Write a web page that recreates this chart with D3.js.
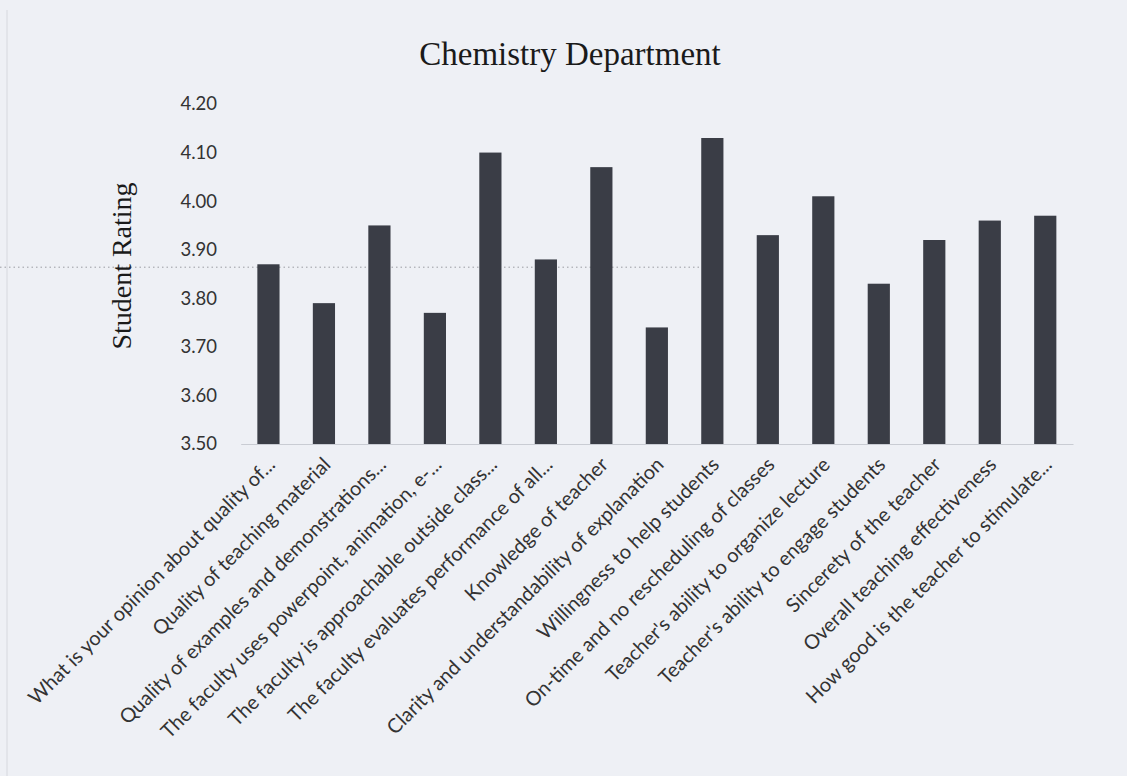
<!DOCTYPE html>
<html>
<head>
<meta charset="utf-8">
<script src="https://cdn.jsdelivr.net/npm/d3@7"></script>
<style>
  html, body { margin: 0; padding: 0; background: #eef0f5; }
  .tick text { font-family: Lato, "Open Sans", sans-serif; fill: #333; }
</style>
</head>
<body>
<div class="chart"></div>
<script>
var svgWidth = 1127;
var svgHeight = 776;

// categories and ratings
var questions = [
  "What is your opinion about quality of...",
  "Quality of teaching material",
  "Quality of examples and demonstrations...",
  "The faculty uses powerpoint, animation, e-...",
  "The faculty is approachable outside class...",
  "The faculty evaluates performance of all...",
  "Knowledge of teacher",
  "Clarity and understandability of explanation",
  "Willingness to help students",
  "On-time and no rescheduling of classes",
  "Teacher's ability to organize lecture",
  "Teacher's ability to engage students",
  "Sincerety of the teacher",
  "Overall teaching effectiveness",
  "How good is the teacher to stimulate..."
];
var ratings = [3.87, 3.79, 3.95, 3.77, 4.10, 3.88, 4.07, 3.74, 4.13, 3.93, 4.01, 3.83, 3.92, 3.96, 3.97];
var yTicks = [3.5, 3.6, 3.7, 3.8, 3.9, 4.0, 4.1, 4.2];

var svg = d3.select(".chart")
    .append("svg")
    .attr("width", svgWidth)
    .attr("height", svgHeight);

// scan artefacts: faint page edge and a dotted line
svg.append("line")
    .attr("x1", 7).attr("x2", 7)
    .attr("y1", 10).attr("y2", 776)
    .attr("stroke", "#d6d8de")
    .attr("stroke-width", 1);

var xScale = d3.scaleBand()
    .domain(questions)
    .range([240.7, 1073])
    .paddingInner(0.6)
    .paddingOuter(0.3);

var yScale = d3.scaleLinear()
    .domain([3.5, 4.2])
    .range([444, 104]);

svg.append("line")
    .attr("x1", 0).attr("x2", 712)
    .attr("y1", yScale(3.864)).attr("y2", yScale(3.864))
    .attr("stroke", "#9a9ca3")
    .attr("stroke-width", 1)
    .attr("stroke-dasharray", "1.5,3");

// title
svg.append("text")
    .attr("x", 570)
    .attr("y", 65)
    .attr("text-anchor", "middle")
    .style("font-family", "'Liberation Serif', 'Times New Roman', serif")
    .style("font-size", "33px")
    .style("fill", "#1a1a1a")
    .text("Chemistry Department");

// y axis (labels only)
var leftAxis = d3.axisLeft(yScale)
    .tickValues(yTicks)
    .tickFormat(d3.format(".2f"))
    .tickSize(0)
    .tickPadding(0);

var yAxisG = svg.append("g")
    .attr("transform", "translate(217, 0)")
    .call(leftAxis);
yAxisG.select(".domain").remove();
yAxisG.selectAll("text")
    .style("font-size", "18.5px");

svg.append("text")
    .attr("transform", "translate(131, 266) rotate(-90)")
    .attr("text-anchor", "middle")
    .style("font-family", "'Liberation Serif', 'Times New Roman', serif")
    .style("font-size", "28px")
    .style("fill", "#1a1a1a")
    .text("Student Rating");

// bars
svg.selectAll("rect.bar")
    .data(ratings)
    .enter()
    .append("rect")
    .attr("class", "bar")
    .attr("x", (d, i) => xScale(questions[i]))
    .attr("width", xScale.bandwidth())
    .attr("y", d => yScale(d))
    .attr("height", d => yScale(3.5) - yScale(d))
    .attr("fill", "#3a3d46");

// x axis
var bottomAxis = d3.axisBottom(xScale).tickSize(0).tickPadding(0);
var xAxisG = svg.append("g")
    .attr("transform", "translate(0, 444)")
    .call(bottomAxis);
xAxisG.select(".domain")
    .attr("stroke", "#c9ccd3");
xAxisG.selectAll("text")
    .style("font-size", "20px")
    .attr("text-anchor", "end")
    .attr("dy", "0.35em")
    .attr("transform", "translate(3, 17) rotate(-45)");
</script>
</body>
</html>
